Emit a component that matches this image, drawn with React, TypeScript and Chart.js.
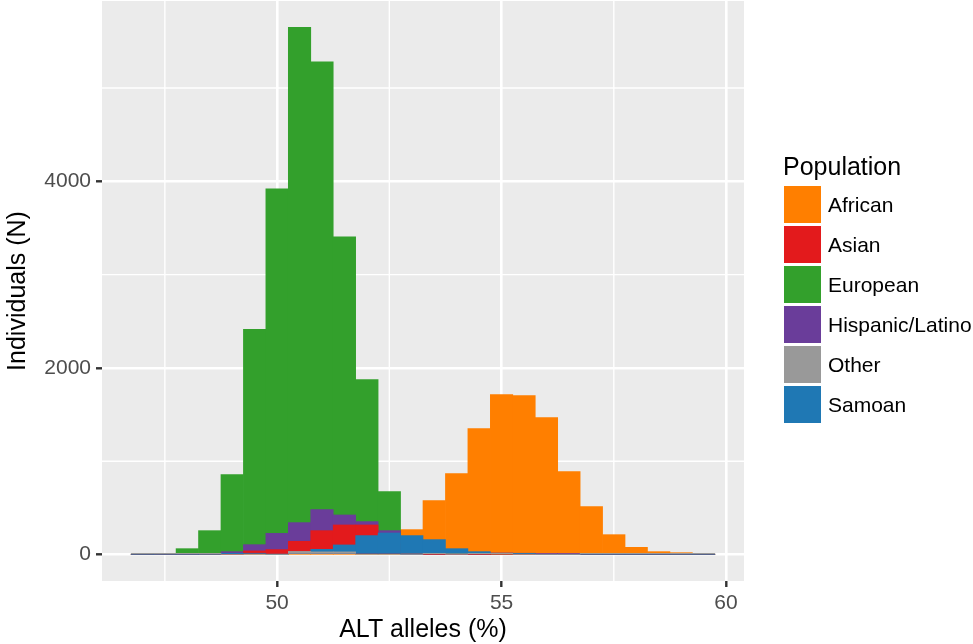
import { useEffect, useRef } from 'react';
import { Chart, registerables } from 'chart.js';

Chart.register(...registerables);

// Histogram bins (centre of each 0.5-wide bin, % ALT alleles)
const binCenters = [
  47, 47.5, 48, 48.5, 49, 49.5, 50, 50.5, 51, 51.5, 52, 52.5, 53,
  53.5, 54, 54.5, 55, 55.5, 56, 56.5, 57, 57.5, 58, 58.5, 59, 59.5,
];
const binWidth = 0.5;

// Individuals per bin, one array per population
const african = [
  0, 0, 0, 0, 0, 0, 0, 0, 0, 0, 0, 0, 268,
  579, 868, 1350, 1714, 1704, 1468, 889, 514, 214, 78, 32, 21, 0,
];
const asian = [
  0, 0, 0, 0, 0, 40, 54, 143, 257, 318, 318, 120, 25,
  0, 0, 0, 0, 0, 0, 0, 0, 0, 0, 0, 0, 0,
];
const european = [
  0, 12, 64, 257, 857, 2413, 3920, 5650, 5280, 3405, 1875, 675, 0,
  0, 0, 0, 0, 0, 0, 0, 0, 0, 0, 0, 0, 0,
];
const hispanicLatino = [
  0, 0, 0, 12, 32, 107, 228, 343, 482, 425, 354, 257, 0,
  0, 0, 0, 18, 15, 12, 12, 0, 0, 0, 0, 0, 0,
];
const other = [
  10, 10, 10, 10, 0, 0, 0, 35, 30, 30, 0, 0, 0,
  10, 0, 10, 10, 0, 0, 0, 10, 10, 10, 10, 10, 10,
];
const samoan = [
  0, 0, 0, 0, 10, 15, 0, 15, 57, 104, 204, 232, 204,
  161, 64, 32, 10, 12, 0, 0, 0, 0, 0, 0, 0, 0,
];

const populations = ['African', 'Asian', 'European', 'Hispanic/Latino', 'Other', 'Samoan'];
const seriesValues = [african, asian, european, hispanicLatino, other, samoan];
const fillColors = ['#FF7F00', '#E31A1C', '#33A02C', '#6A3D9A', '#999999', '#1F78B4'];
// Painting order: larger numbers are painted first (further back)
const paintOrder = [5, 2, 4, 3, 0, 1];

const xMajorTicks = [50, 55, 60];
const xMinorTicks = [47.5, 52.5, 57.5];
const yMajorTicks = [0, 2000, 4000];
const yMinorTicks = [1000, 3000, 5000];

const xTitle = 'ALT alleles (%)';
const yTitle = 'Individuals (N)';
const legendTitle = 'Population';

const FONT = "'Liberation Sans', Arial, Helvetica, sans-serif";

// ggplot-like range expansion (5% each side)
const xLow = binCenters[0] - binWidth / 2;
const xHigh = binCenters[binCenters.length - 1] + binWidth / 2;
const xPad = (xHigh - xLow) * 0.05;
const yTop = Math.max(...seriesValues.map((s) => Math.max(...s)));
const yPad = yTop * 0.05;

// Scales should not push the plot area around with label overhang
const noOverhang = (s: any) => {
  s.paddingTop = 0;
  s.paddingBottom = 0;
  s.paddingLeft = 0;
  s.paddingRight = 0;
};

const panelPlugin = {
  id: 'panelBackground',
  beforeDraw(chart: any) {
    const { ctx, chartArea: a, scales } = chart;
    ctx.save();
    ctx.fillStyle = '#EBEBEB';
    ctx.fillRect(a.left, a.top, a.right - a.left, a.bottom - a.top);
    ctx.strokeStyle = '#FFFFFF';
    ctx.lineWidth = 1.4;
    ctx.beginPath();
    for (const v of xMinorTicks) {
      const px = scales.x.getPixelForValue(v);
      ctx.moveTo(px, a.top);
      ctx.lineTo(px, a.bottom);
    }
    for (const v of yMinorTicks) {
      const py = scales.y.getPixelForValue(v);
      ctx.moveTo(a.left, py);
      ctx.lineTo(a.right, py);
    }
    ctx.stroke();
    ctx.restore();
  },
};

const legendPlugin = {
  id: 'populationLegend',
  afterDraw(chart: any) {
    const { ctx, chartArea: a } = chart;
    const keyX = a.right + 40;
    const keySize = 37;
    const rowStep = 40;
    const firstKeyTop = 186;
    ctx.save();
    ctx.fillStyle = '#000000';
    ctx.textAlign = 'left';
    ctx.textBaseline = 'alphabetic';
    ctx.font = `25px ${FONT}`;
    ctx.fillText(legendTitle, keyX - 1, 175);
    ctx.font = `21px ${FONT}`;
    populations.forEach((name, i) => {
      const top = firstKeyTop + i * rowStep;
      ctx.fillStyle = fillColors[i];
      ctx.fillRect(keyX, top, keySize, keySize);
      ctx.fillStyle = '#000000';
      ctx.fillText(name, keyX + 44, top + keySize / 2 + 7.5);
    });
    ctx.restore();
  },
};

export default function App() {
  const canvasRef = useRef<HTMLCanvasElement | null>(null);

  useEffect(() => {
    const canvas = canvasRef.current;
    if (!canvas) return;

    const datasets = populations.map((name, i) => ({
      label: name,
      data: binCenters.map((x, j) => ({ x, y: seriesValues[i][j] })),
      backgroundColor: fillColors[i],
      borderWidth: 0,
      grouped: false,
      order: paintOrder[i],
      barPercentage: 1,
      categoryPercentage: 1,
    }));

    const chart = new Chart(canvas, {
      type: 'bar',
      data: { datasets },
      plugins: [panelPlugin, legendPlugin],
      options: {
        responsive: false,
        animation: false,
        devicePixelRatio: 1,
        layout: { padding: { left: 0, right: 229, top: 1, bottom: 0 } },
        plugins: {
          legend: { display: false },
          tooltip: { enabled: false },
        },
        scales: {
          x: {
            type: 'linear',
            min: xLow - xPad,
            max: xHigh + xPad,
            offset: false,
            afterBuildTicks: (s: any) => {
              s.ticks = xMajorTicks.map((value) => ({ value }));
            },
            afterFit: (s: any) => {
              s.height = 63;
              noOverhang(s);
            },
            grid: {
              offset: false,
              color: '#FFFFFF',
              lineWidth: 2.6,
              drawTicks: true,
              tickLength: 6,
              tickColor: '#333333',
              tickWidth: 2.4,
            },
            border: { display: false },
            ticks: {
              color: '#4D4D4D',
              font: { family: FONT, size: 21 },
              padding: 4,
              maxRotation: 0,
              autoSkip: false,
              callback: (v: any) => String(v),
            },
            title: {
              display: true,
              text: xTitle,
              color: '#000000',
              font: { family: FONT, size: 25, lineHeight: 1.1 },
              padding: { top: 0, bottom: 0 },
            },
          },
          y: {
            type: 'linear',
            min: -yPad,
            max: yTop + yPad,
            afterBuildTicks: (s: any) => {
              s.ticks = yMajorTicks.map((value) => ({ value }));
            },
            afterFit: (s: any) => {
              s.width = 102;
              noOverhang(s);
            },
            grid: {
              color: '#FFFFFF',
              lineWidth: 2.6,
              drawTicks: true,
              tickLength: 6,
              tickColor: '#333333',
              tickWidth: 2.4,
            },
            border: { display: false },
            ticks: {
              color: '#4D4D4D',
              font: { family: FONT, size: 21 },
              padding: 5,
              autoSkip: false,
              callback: (v: any) => String(v),
            },
            title: {
              display: true,
              text: yTitle,
              color: '#000000',
              font: { family: FONT, size: 25, lineHeight: 1.2 },
              padding: { top: 3, bottom: 0 },
            },
          },
        },
      },
    } as any);

    return () => chart.destroy();
  }, []);

  return (
    <div style={{ position: 'fixed', left: 0, top: 0, width: 973, height: 644, background: '#FFFFFF' }}>
      <canvas ref={canvasRef} width={973} height={644} style={{ display: 'block' }} />
    </div>
  );
}
